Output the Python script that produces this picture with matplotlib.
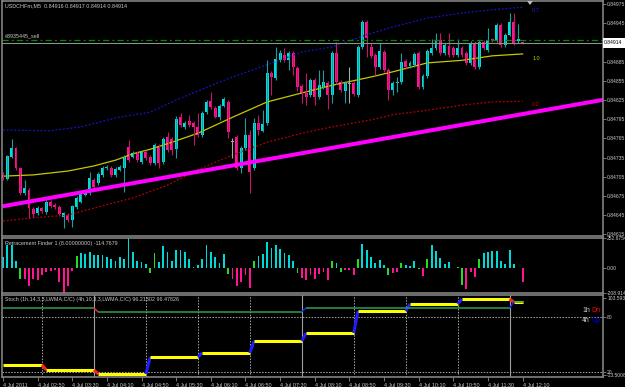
import numpy as np
import matplotlib
matplotlib.use("Agg")
import matplotlib.pyplot as plt
from matplotlib.patches import Rectangle, Polygon

plt.rcParams['font.family'] = ['Liberation Sans', 'DejaVu Sans']

# USDCHFm M5, 4 Jul 2011, bars from 02:10 to 12:10 (prices in points, 1 point = 0.00001)
opens = np.array([
    84708, 84702, 84736, 84750, 84719, 84680, 84684, 84655, 84648, 84656,
    84650, 84666, 84661, 84658, 84642, 84645, 84637, 84658, 84666, 84677,
    84680, 84700, 84695, 84708, 84719, 84719, 84708, 84716, 84719, 84752,
    84736, 84742, 84728, 84744, 84736, 84727, 84753, 84728, 84767, 84764,
    84748, 84798, 84783, 84792, 84789, 84783, 84770, 84806, 84823, 84812,
    84798, 84816, 84822, 84759, 84767, 84719, 84750, 84770, 84719, 84789,
    84777, 84789, 84867, 84859, 84887, 84895, 84887, 84898, 84875, 84847,
    84836, 84833, 84856, 84830, 84845, 84852, 84833, 84898, 84853, 84839,
    84850, 84852, 84833, 84908, 84947, 84908, 84895, 84877, 84900, 84872,
    84841, 84852, 84853, 84886, 84878, 84880, 84898, 84845, 84862, 84898,
    84906, 84919, 84898, 84909, 84906, 84895, 84906, 84898, 84883, 84914,
    84877, 84916, 84903, 84920, 84919, 84942, 84911, 84927, 84947, 84917,
    84916]) * 1e-5
highs = np.array([
    84712, 84739, 84764, 84752, 84720, 84700, 84688, 84658, 84659, 84658,
    84669, 84669, 84664, 84661, 84650, 84648, 84661, 84675, 84683, 84684,
    84712, 84703, 84712, 84722, 84723, 84722, 84720, 84723, 84739, 84762,
    84745, 84745, 84747, 84747, 84739, 84758, 84756, 84767, 84775, 84767,
    84800, 84805, 84792, 84802, 84792, 84805, 84808, 84825, 84837, 84816,
    84819, 84830, 84825, 84766, 84770, 84753, 84797, 84778, 84797, 84802,
    84809, 84887, 84870, 84908, 84903, 84906, 84902, 84902, 84878, 84850,
    84867, 84859, 84859, 84872, 84872, 84855, 84902, 84916, 84856, 84855,
    84877, 84855, 84911, 84950, 84950, 84914, 84898, 84914, 84903, 84875,
    84855, 84861, 84898, 84889, 84886, 84900, 84902, 84866, 84905, 84920,
    84930, 84930, 84914, 84930, 84909, 84920, 84909, 84902, 84917, 84917,
    84919, 84919, 84937, 84922, 84945, 84945, 84930, 84961, 84961, 84944,
    84917]) * 1e-5
lows = np.array([
    84700, 84700, 84734, 84716, 84677, 84677, 84641, 84642, 84645, 84648,
    84647, 84656, 84655, 84645, 84625, 84634, 84627, 84655, 84664, 84675,
    84677, 84686, 84692, 84705, 84716, 84705, 84705, 84714, 84681, 84728,
    84734, 84728, 84725, 84731, 84723, 84723, 84719, 84725, 84744, 84739,
    84734, 84783, 84780, 84783, 84755, 84767, 84767, 84803, 84811, 84797,
    84794, 84814, 84766, 84734, 84716, 84711, 84747, 84680, 84716, 84770,
    84775, 84786, 84833, 84856, 84884, 84884, 84872, 84864, 84839, 84820,
    84817, 84830, 84817, 84827, 84842, 84811, 84820, 84850, 84838, 84820,
    84820, 84831, 84830, 84905, 84892, 84891, 84864, 84873, 84869, 84825,
    84833, 84837, 84850, 84873, 84875, 84877, 84842, 84842, 84859, 84895,
    84903, 84895, 84895, 84892, 84892, 84892, 84892, 84880, 84880, 84873,
    84873, 84903, 84900, 84916, 84916, 84908, 84908, 84925, 84911, 84914,
    84913]) * 1e-5
closes = np.array([
    84703, 84737, 84750, 84719, 84680, 84688, 84656, 84647, 84656, 84652,
    84666, 84659, 84658, 84647, 84648, 84637, 84659, 84672, 84680, 84681,
    84703, 84689, 84709, 84719, 84720, 84708, 84717, 84720, 84736, 84731,
    84742, 84731, 84744, 84734, 84727, 84755, 84727, 84764, 84747, 84747,
    84795, 84786, 84789, 84786, 84783, 84770, 84805, 84822, 84814, 84798,
    84816, 84827, 84775, 84759, 84719, 84750, 84770, 84712, 84789, 84778,
    84787, 84867, 84861, 84889, 84898, 84887, 84898, 84877, 84845, 84836,
    84830, 84856, 84830, 84848, 84853, 84833, 84898, 84853, 84841, 84852,
    84850, 84834, 84908, 84947, 84922, 84894, 84877, 84902, 84872, 84841,
    84852, 84853, 84884, 84877, 84883, 84897, 84845, 84862, 84902, 84906,
    84919, 84898, 84911, 84895, 84895, 84906, 84895, 84883, 84914, 84877,
    84916, 84906, 84919, 84918, 84942, 84911, 84927, 84947, 84914, 84920,
    84914]) * 1e-5

# moving average and bands, read at a few bars
ma_bars = [0, 7, 15, 21, 26, 30, 34, 39, 45, 53, 61, 69, 76, 85, 90, 98, 106, 113, 120]
ma_vals = np.array([84706, 84708, 84714, 84722, 84731, 84741, 84748, 84759, 84773, 84798,
                    84822, 84836, 84848, 84861, 84869, 84883, 84887, 84894, 84897]) * 1e-5
band_up_bars = [0, 11, 18, 26, 34, 40, 45, 53, 61, 69, 76, 84, 90, 98, 106, 113, 120]
band_up_vals = np.array([84778, 84777, 84783, 84797, 84806, 84825, 84839, 84861, 84880, 84900,
                         84908, 84927, 84939, 84953, 84961, 84966, 84970]) * 1e-5
band_dn_bars = [0, 7, 15, 22, 30, 38, 45, 53, 61, 69, 76, 85, 90, 98, 106, 113, 120]
band_dn_vals = np.array([84636, 84641, 84645, 84658, 84672, 84692, 84716, 84739, 84759, 84773,
                         84783, 84794, 84802, 84809, 84817, 84822, 84823]) * 1e-5

# trend line anchors
trend_bars = [0, 120]
trend_vals = [0.84659, 0.84803]
order_price = 0.84919
bid_price = 0.84914
ohlc_text = "USDCHFm,M5  0.84916 0.84917 0.84914 0.84914"
order_label = "#3935445_sell"
band_labels = ["0.7", "1.0", "0.2"]

main_ticks = [0.84975, 0.84945, 0.84885, 0.84855, 0.84825, 0.84795, 0.84765,
              0.84735, 0.84705, 0.84675, 0.84645, 0.84615]

# Retracement Finder histogram
hist_vals = [
    93, 191, 191, 58, -93, -93, -147, -93, -102, -58,
    -31, -22, -13, -120, -208.914, -147, -22, 102, 129, 120,
    138, 111, 111, 111, 93, 75, 58, 93, 75, 252.6754,
    138, 58, 49, 31, -40, 129, 49, 182, 138, 58,
    155, 155, 138, 75, 13, 22, 75, 191, 138, 93,
    40, 120, -50, -90, -150, -120, -60, -170, 60, 100,
    120, 220, 170, 190, 160, 130, 110, 60, -40, -80,
    -100, -60, -90, -50, -30, -100, 60, 40, -30, -20,
    -20, -60, 80, 200, 150, 90, 40, 70, 30, -60,
    -40, -30, 40, 30, 20, 60, -5, -67, 75, 191,
    147, 84, 31, 49, 3, 13, -138, -173, -31, -75,
    75, 129, 138, 147, 147, 58, 31, 155, 31, -3,
    -114.7679]
hist_green = [4, 17, 34, 35, 52, 58, 68, 76, 78, 82, 89, 92, 96, 98, 104, 105, 106, 110, 119]
hist_label = "Retracement Finder 1 (8.00000000) -114.7679"
hist_ticks = [252.6754, 0.0, -208.914]
hist_tick_labels = ["252.6754", "0.00", "-208.914"]

# multi timeframe stochastic, value per period and last bar of each period
stoch_1h_ends = [9, 21, 33, 45, 57, 69, 81, 93, 105, 117, 120]
stoch_1h_vals = [27.6, 22.2, 17.8, 36.4, 40.7, 53.8, 62.5, 86.5, 94.2, 99.6, 96.21302]
stoch_4h_ends = [21, 69, 117, 120]
stoch_4h_vals = [89.8, 85.5, 89.8, 96.47826]
stoch_label = "Stoch (1h,14,3,3,LWMA,C/C) (4h,10,3,3,LWMA,C/C) 96.21302 96.47826"
stoch_levels = [80, 20]
stoch_tick_labels = ["103.5935", "80", "20", "-13.5006"]

time_labels = ["4 Jul 2011", "4 Jul 02:50", "4 Jul 03:30", "4 Jul 04:10", "4 Jul 04:50",
               "4 Jul 05:30", "4 Jul 06:10", "4 Jul 06:50", "4 Jul 07:30", "4 Jul 08:10",
               "4 Jul 08:50", "4 Jul 09:30", "4 Jul 10:10", "4 Jul 10:50", "4 Jul 11:30",
               "4 Jul 12:10"]

W, H = 625, 387
BAR_PX = 4.33
FS = 3.9
YFS = 3.6
TXT = '#c8c8c8'
GRAY = '#8c8c8c'

fig = plt.figure(figsize=(W / 100, H / 100), dpi=100, facecolor='black')


def px_axes(x0, y0, x1, y1):
    a = fig.add_axes([x0 / W, 1 - y1 / H, (x1 - x0) / W, (y1 - y0) / H])
    a.set_facecolor('black')
    for s in a.spines.values():
        s.set_color(GRAY)
        s.set_linewidth(1.1)
    a.set_xlim((2 - 3) / BAR_PX, (603 - 3) / BAR_PX)
    a.yaxis.tick_right()
    a.tick_params(axis='y', colors=GRAY, labelcolor=TXT, labelsize=YFS, length=2, width=0.6, pad=1)
    a.set_xticks([])
    return a


def ftext(x, y, s, **kw):
    kw.setdefault('color', TXT)
    kw.setdefault('fontsize', FS)
    fig.text(x / W, 1 - y / H, s, va='center', ha='left', **kw)


idx = np.arange(len(opens))

# ---- main price window
ax = px_axes(2, 1, 603, 236)
ax.set_ylim(0.84975 - (236 - 4) * 0.0003 / 19.2, 0.84975 + 3 * 0.0003 / 19.2)

up = closes > opens
dn = closes < opens
body_col = np.where(up, '#00e0e0', np.where(dn, '#ff1493', '#a8a8a8'))
wick_col = np.where(up, '#16a0a0', np.where(dn, '#c8136e', '#a8a8a8'))

ax.plot(ma_bars, ma_vals, color='#c8c800', lw=0.9)
ax.plot(band_up_bars, band_up_vals, color='#1414c8', lw=0.9, ls=(0, (1.5, 1.5)))
ax.plot(band_dn_bars, band_dn_vals, color='#b40000', lw=0.9, ls=(0, (1.5, 1.5)))

ax.vlines(idx, lows, highs, colors=wick_col, lw=0.8)
ax.bar(idx, np.maximum(np.abs(closes - opens), 1.2e-5), bottom=np.minimum(opens, closes),
       width=0.68, color=body_col, lw=0)

slope = (trend_vals[1] - trend_vals[0]) / (trend_bars[1] - trend_bars[0])
xr = ax.get_xlim()
ax.plot(xr, [trend_vals[0] + slope * (x - trend_bars[0]) for x in xr], color='#ff00ff', lw=2.9,
        solid_capstyle='butt')

ax.axhline(order_price, color='#008c00', lw=0.9, ls=(0, (5, 2.5, 1.5, 2.5)))
ax.axhline(bid_price, color='#909090', lw=0.8)

ax.set_yticks(main_ticks)
ax.set_yticklabels(['%.5f' % v for v in main_ticks])

# price box
fig.add_artist(Rectangle((603 / W, 1 - 47.5 / H), 22 / W, 9 / H, transform=fig.transFigure,
                         facecolor='white', edgecolor='none'))
ftext(604, 43, '%.5f' % bid_price, color='black', fontsize=YFS)
fig.add_artist(Polygon([[527 / W, 1 - 1 / H], [533 / W, 1 - 1 / H], [530 / W, 1 - 5 / H]],
                       closed=True, transform=fig.transFigure, facecolor='#b8b8b8', edgecolor='none'))

ftext(5, 5.5, ohlc_text)
ftext(5, 36, order_label)
ftext(532, 10, band_labels[0], color='#2020d0')
ftext(533, 58, band_labels[1], color='#d0d000')
ftext(532, 104, band_labels[2], color='#c80000')

# ---- Retracement Finder window
ax2 = px_axes(2, 238, 603, 293)
ax2.set_ylim(hist_ticks[2], hist_ticks[0])
hcol = ['#22dd22' if i in hist_green else ('#00d8d8' if v >= 0 else '#ff1493')
        for i, v in enumerate(hist_vals)]
ax2.bar(idx, hist_vals, width=0.42, color=hcol, lw=0)
ax2.set_yticks(hist_ticks)
ax2.set_yticklabels(hist_tick_labels)
ftext(5, 244, hist_label)

# ---- Stochastic window
ax3 = px_axes(2, 295, 603, 377)
per_px = 60 / 55.0
lo_v = 20 - 5 * per_px
hi_v = 80 + 22 * per_px
ax3.set_ylim(lo_v, hi_v)
for lv in stoch_levels:
    ax3.axhline(lv, color='#a8a8a8', lw=0.7, ls=(0, (1.5, 1.5)))

for e in stoch_1h_ends[:-1]:
    if e in stoch_4h_ends:
        ax3.axvline(e, color='#a0a0a0', lw=0.8)
    else:
        ax3.axvline(e, color='#a8a8a8', lw=0.7, ls=(0, (1.5, 1.5)))


def step_line(a, ends, vals, color, lw):
    start = 0
    prev = None
    for e, v in zip(ends, vals):
        if prev is not None:
            a.plot([prev[0], start], [prev[1], v], color='#1e1eff' if v > prev[1] else '#ff1e1e',
                   lw=lw, solid_capstyle='butt')
        a.plot([start, e], [v, v], color=color, lw=lw, solid_capstyle='butt')
        prev = (e, v)
        start = e + 1


step_line(ax3, stoch_1h_ends, stoch_1h_vals, '#ffff00', 2.2)
step_line(ax3, stoch_4h_ends, stoch_4h_vals, '#2e9e4e', 1.1)

ax3.set_yticks([hi_v - 3 * per_px, 80, 20, lo_v + 2 * per_px])
ax3.set_yticklabels(stoch_tick_labels)
tick_bars = np.arange(0, len(opens), 8)
ax3.set_xticks(tick_bars)
ax3.set_xticklabels(time_labels)
ax3.tick_params(axis='x', colors=GRAY, labelcolor=TXT, labelsize=FS, length=3, width=0.6, pad=1)
for lbl in ax3.get_xticklabels():
    lbl.set_ha('left')

ftext(5, 300, stoch_label)
ftext(582, 311, "1h", fontsize=5.0)
ftext(591, 311, "Dn", fontsize=5.0, color='#ff0000')
ftext(582, 320, "4h", fontsize=5.0)
ftext(591, 320, "Up", fontsize=5.0, color='#0000ff')

fig.savefig('out.png', dpi=100, facecolor='black')
